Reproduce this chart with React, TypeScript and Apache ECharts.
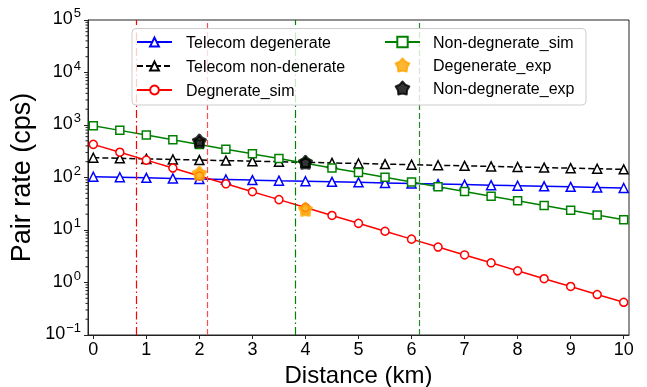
import React, { useEffect, useRef } from "react";
import * as echarts from "echarts";

const FONT = "Liberation Sans, Arial, Helvetica, sans-serif";

// distance (km)
const xKm = [0, 0.5, 1, 1.5, 2, 2.5, 3, 3.5, 4, 4.5, 5, 5.5, 6, 6.5, 7, 7.5, 8, 8.5, 9, 9.5, 10];
const xTicks = [0, 1, 2, 3, 4, 5, 6, 7, 8, 9, 10];

const telecomDegenerate = [103.5, 101, 98.5, 96.1, 93.8, 91.5, 89.2, 87.0, 84.9, 82.8, 80.8, 78.8, 76.9, 75.0, 73.2, 71.4, 69.7, 68.0, 66.3, 64.7, 63.1];
const telecomNonDegenerate = [238, 232, 226, 221, 215, 210, 205, 199.5, 194.5, 189.7, 184.7, 180, 175.5, 171, 167, 162.6, 158.5, 154.5, 150.7, 146.9, 143.2];
const degenerateSim = [428, 303, 214, 151.5, 107, 75.8, 53.6, 37.9, 26.8, 18.9, 13.4, 9.47, 6.7, 4.74, 3.35, 2.37, 1.67, 1.18, 0.84, 0.59, 0.42];
const nonDegenerateSim = [970, 790, 643, 523, 426, 346, 282, 229, 187, 152, 124, 101, 81.8, 66.6, 54.2, 44.1, 35.9, 29.2, 23.8, 19.3, 15.7];

const degenerateExpX = [2, 4];
const degenerateExpY = [120, 24.8];
const nonDegenerateExpX = [2, 4];
const nonDegenerateExpY = [495, 195];

// vertical reference lines (km)
const vLineRedDashDot = 0.81;
const vLineRedDashed = 2.15;
const vLineGreenDashDot = 3.8;
const vLineGreenDashed = 6.15;

// log minor tick positions
const minorMultipliers = [2, 3, 4, 5, 6, 7, 8, 9];
const decadeExps = [-1, 0, 1, 2, 3, 4];

const X_MIN = -0.1;
const X_MAX = 10.1;

// fat 5-point star
const STAR =
  "path://M10 0 L14 4.5 L19.511 6.91 L16.4 12.1 L15.878 18.09 L10 16.8 L4.122 18.09 L3.6 12.1 L0.489 6.91 L6 4.5 Z";

const pair = (xs: number[], ys: number[]) => xs.map((x, i) => [x, ys[i]]);

export default function App() {
  const ref = useRef<HTMLDivElement>(null);
  useEffect(() => {
    if (!ref.current) return;
    const chart = echarts.init(ref.current, undefined, { renderer: "svg" });
    const minorVals: number[][] = [];
    decadeExps.forEach((e) => minorMultipliers.forEach((m) => minorVals.push([X_MIN, m * Math.pow(10, e)])));

    const lineSeries = (name: string, ys: number[], color: string, symbol: string, size: number, dashed?: boolean) => ({
      name,
      type: "line",
      data: pair(xKm, ys),
      symbol,
      symbolSize: size,
      showSymbol: true,
      lineStyle: { color, width: 1.5, type: dashed ? [6, 3] : "solid" },
      itemStyle: { color: "#ffffff", borderColor: color, borderWidth: 1.5 },
      z: 3,
    });

    const option: any = {
      animation: false,
      textStyle: { fontFamily: FONT },
      grid: {
        left: 88,
        right: 18,
        top: 20,
        bottom: 52,
        show: true,
        borderColor: "#222",
        borderWidth: 1,
        backgroundColor: "transparent",
        outerBoundsMode: "none",
      },
      xAxis: {
        type: "value",
        min: X_MIN,
        max: X_MAX,
        axisLine: { show: true, onZero: false, lineStyle: { color: "#222", width: 1 } },
        axisTick: { show: true, inside: false, length: 4, customValues: xTicks, lineStyle: { color: "#222" } },
        axisLabel: { customValues: xTicks, fontSize: 18, color: "#000", margin: 5, fontFamily: FONT },
        splitLine: { show: false },
        name: "Distance (km)",
        nameLocation: "middle",
        nameGap: 18,
        nameTextStyle: { fontSize: 24, lineHeight: 24, color: "#000", fontFamily: FONT },
      },
      yAxis: {
        type: "log",
        logBase: 10,
        min: 0.1,
        max: 100000,
        axisLine: { show: true, onZero: false, lineStyle: { color: "#222", width: 1 } },
        axisTick: { show: true, inside: false, length: 4, lineStyle: { color: "#222" } },
        axisLabel: {
          margin: 7,
          formatter: (v: number) => {
            const e = Math.round(Math.log10(v));
            const es = e < 0 ? "\u2212" + -e : String(e);
            return "{b|10}{s|" + es + "}";
          },
          rich: {
            b: { fontSize: 18, lineHeight: 30, color: "#000", fontFamily: FONT, padding: [4, 0, 0, 0], verticalAlign: "top" },
            s: { fontSize: 13, lineHeight: 13, color: "#000", fontFamily: FONT, padding: [1, 0, 0, 1], verticalAlign: "top" },
          },
        },
        splitLine: { show: false },
        name: "Pair rate (cps)",
        nameLocation: "middle",
        nameGap: 42,
        nameTextStyle: { fontSize: 27, color: "#000", fontFamily: FONT },
      },
      legend: [
        {
          data: ["Telecom degenerate", "Telecom non-denerate", "Degnerate_sim"],
          orient: "vertical",
          left: 136,
          top: 33,
          padding: 0,
          itemWidth: 35,
          itemHeight: 11,
          itemGap: 6,
          selectedMode: false,
          z: 10,
          textStyle: { fontSize: 16, color: "#000", lineHeight: 18, fontFamily: FONT, padding: [0, 0, 0, 9] },
        },
        {
          data: ["Non-degnerate_sim", "Degenerate_exp", "Non-degnerate_exp"],
          orient: "vertical",
          left: 384,
          top: 33,
          padding: 0,
          itemWidth: 35,
          itemHeight: 13,
          itemGap: 5,
          selectedMode: false,
          z: 10,
          textStyle: { fontSize: 16, color: "#000", lineHeight: 18, fontFamily: FONT, padding: [0, 0, 0, 8] },
        },
      ],
      graphic: [
        {
          type: "rect",
          z: 8,
          silent: true,
          shape: { x: 132, y: 28.5, width: 454, height: 76.5, r: 4 },
          style: { fill: "rgba(255,255,255,0.8)", stroke: "#cccccc", lineWidth: 1 },
        },
      ],
      series: [
        {
          ...lineSeries("Telecom degenerate", telecomDegenerate, "#0000ff", "triangle", 9),
          markLine: {
            silent: true,
            symbol: "none",
            label: { show: false },
            data: [
              { xAxis: vLineRedDashDot, lineStyle: { color: "#ff0000", width: 1.2, type: [8, 3, 1.5, 3] } },
              { xAxis: vLineRedDashed, lineStyle: { color: "#ff4d4d", width: 1.2, type: [6, 3] } },
              { xAxis: vLineGreenDashDot, lineStyle: { color: "#008000", width: 1.2, type: [8, 3, 1.5, 3] } },
              { xAxis: vLineGreenDashed, lineStyle: { color: "#2a8a2a", width: 1.2, type: [6, 3] } },
            ],
          },
        },
        lineSeries("Telecom non-denerate", telecomNonDegenerate, "#000000", "triangle", 9, true),
        lineSeries("Degnerate_sim", degenerateSim, "#ff0000", "circle", 8),
        lineSeries("Non-degnerate_sim", nonDegenerateSim, "#008000", "rect", 8),
        {
          name: "Degenerate_exp",
          type: "scatter",
          data: pair(degenerateExpX, degenerateExpY),
          symbol: STAR,
          symbolSize: 12,
          itemStyle: { color: "#ffa500", borderColor: "#ffa500", borderWidth: 3, borderJoin: "round" },
          z: 5,
        },
        {
          name: "Non-degnerate_exp",
          type: "scatter",
          data: pair(nonDegenerateExpX, nonDegenerateExpY),
          symbol: STAR,
          symbolSize: 12,
          itemStyle: { color: "#000000", borderColor: "#000000", borderWidth: 3, borderJoin: "round" },
          z: 5,
        },
        {
          name: "minorTicks",
          type: "custom",
          silent: true,
          clip: false,
          data: minorVals,
          renderItem: (params: any, api: any) => {
            const p = api.coord([api.value(0), api.value(1)]);
            return {
              type: "line",
              shape: { x1: p[0] - 2.5, y1: p[1], x2: p[0], y2: p[1] },
              style: { stroke: "#222", lineWidth: 1 },
            };
          },
          z: 1,
        },
      ],
    };
    chart.setOption(option);
    return () => chart.dispose();
  }, []);
  return <div ref={ref} style={{ position: "fixed", left: 0, top: 0, width: 647, height: 387 }} />;
}
